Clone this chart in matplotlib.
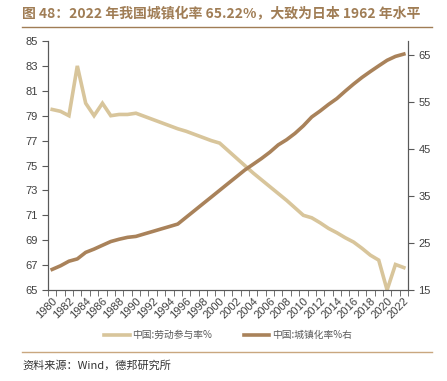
import matplotlib.pyplot as plt
import numpy as np

plt.rcParams['font.family'] = ['Liberation Sans', 'Noto Sans CJK SC', 'DejaVu Sans']

years = list(range(1980, 2023))
# 中国:劳动参与率% (left axis)
labor = [79.5, 79.35, 79.0, 83.0, 80.0, 79.0, 80.0, 79.0, 79.1, 79.1,
         79.2, 78.95, 78.7, 78.45, 78.2, 77.95, 77.75, 77.5, 77.25, 77.0,
         76.8, 76.2, 75.6, 75.0, 74.4, 73.85, 73.3, 72.75, 72.2, 71.6,
         71.0, 70.8, 70.4, 69.95, 69.6, 69.2, 68.85, 68.35, 67.8, 67.4,
         65.0, 67.05, 66.8]
# 中国:城镇化率% (right axis)
urban = [19.39, 20.16, 21.13, 21.62, 23.01, 23.71, 24.52, 25.32, 25.81, 26.21,
         26.41, 26.94, 27.46, 27.99, 28.51, 29.04, 30.48, 31.91, 33.35, 34.78,
         36.22, 37.66, 39.09, 40.53, 41.76, 42.99, 44.34, 45.89, 46.99, 48.34,
         49.95, 51.83, 53.10, 54.49, 55.75, 57.33, 58.84, 60.24, 61.50, 62.71,
         63.89, 64.72, 65.22]

light = '#D8C59B'
dark = '#A9825A'
brown = '#A07D55'
gray = '#595959'

fig = plt.figure(figsize=(4.47, 3.81), dpi=100)
ax = fig.add_axes([0.1074, 0.2388, 0.8054, 0.6536])
ax2 = ax.twinx()

l1, = ax.plot(years, labor, color=light, lw=2.6, solid_joinstyle='miter')
l2, = ax2.plot(years, urban, color=dark, lw=2.6)

ax.set_xlim(1979.5, 2022.5)
ax.set_ylim(65, 85)
ax.set_yticks(np.arange(65, 86, 2))
ax2.set_ylim(15, 68)
ax2.set_yticks(np.arange(15, 66, 10))

ax.set_xticks(np.arange(1979.5, 2023, 1), minor=True)
ax.set_xticks(years[::2])
ax.set_xticklabels([str(y) for y in years[::2]], rotation=45, ha='right',
                   rotation_mode='anchor', fontsize=8, color='#404040')
ax.tick_params(axis='x', which='major', length=0, pad=4)
ax.tick_params(axis='x', which='minor', length=4, color=gray, direction='out')
ax.tick_params(axis='y', labelsize=8, labelcolor='#404040', length=4, color=gray)
ax2.tick_params(axis='y', labelsize=8, labelcolor='#404040', length=4, color=gray)

for a in (ax, ax2):
    a.spines['top'].set_visible(False)
    for s in ('left', 'right', 'bottom'):
        a.spines[s].set_color(gray)
        a.spines[s].set_linewidth(0.8)

fig.legend([l1, l2], ['中国:劳动参与率%', '中国:城镇化率%右'],
           loc='center', bbox_to_anchor=(0.51, 0.12), ncol=2, frameon=False,
           prop={'family': ['Noto Sans CJK SC'], 'size': 7},
           handlelength=2.6, handletextpad=0.3, columnspacing=3.2, labelcolor=gray)

fig.text(0.05, 0.962, '图 48：2022 年我国城镇化率 65.22%，大致为日本 1962 年水平',
         fontsize=10.0, fontweight='bold', color=brown, va='center',
         family=['Noto Sans CJK SC'])
fig.add_artist(plt.Line2D([0.05, 0.966], [0.929, 0.929], color=brown, lw=1.0,
                          transform=fig.transFigure))
fig.add_artist(plt.Line2D([0.05, 0.966], [0.076, 0.076], color='#C9A77F', lw=1.0,
                          transform=fig.transFigure))
fig.text(0.05, 0.04, '资料来源：Wind，德邦研究所', fontsize=8, color='#333333',
         va='center', family=['Noto Sans CJK SC'])

fig.savefig('out.png', dpi=100)
